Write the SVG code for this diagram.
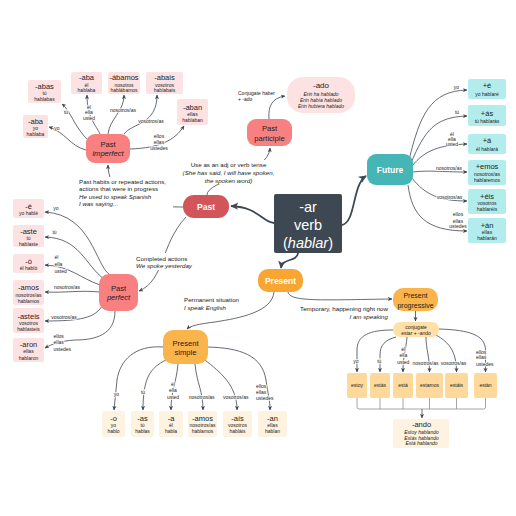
<svg xmlns="http://www.w3.org/2000/svg" width="516" height="516" viewBox="0 0 516 516">
<defs>
<marker id="ah" viewBox="0 0 10 10" refX="9" refY="5" markerWidth="4.5" markerHeight="4.5" markerUnits="userSpaceOnUse" orient="auto"><path d="M0,0.5 L10,5 L0,9.5 L2.5,5 z" fill="#3D4852"/></marker>
<marker id="ahb" viewBox="0 0 10 10" refX="9" refY="5" markerWidth="8" markerHeight="8" markerUnits="userSpaceOnUse" orient="auto"><path d="M0,0.5 L10,5 L0,9.5 L2.5,5 z" fill="#3D4852"/></marker>
</defs>
<style>
text{font-family:"Liberation Sans",Arial,sans-serif;fill:#222;text-anchor:middle}
.c{fill:none;stroke:#3D4852;stroke-width:0.8;marker-end:url(#ah)}
.cb{fill:none;stroke:#3D4852;stroke-width:1.8;marker-end:url(#ahb)}
.br{fill:none;stroke:#8A9096;stroke-width:0.8}
.l{font-size:5px;stroke:#fff;stroke-width:1.4px;paint-order:stroke;stroke-linejoin:round}
.ls{text-anchor:start}
.d{font-size:6.2px}
.ti{font-size:7.5px}
.s{font-size:5px}
.i{font-style:italic}
.pk{fill:#FDE2E4}
.tl{fill:#B3ECEC}
.cr{fill:#FEF3E0}
.or{fill:#FED99B}
.sal{fill:#F88080}
.ora{fill:#F9B44C}
.w{fill:#fff}
.nd{font-size:7.6px}
.bw{font-size:8.5px;font-weight:bold;fill:#fff}
</style>
<rect width="516" height="516" fill="#fff"/>

<g id="connectors">
<path class="cb" d="M274,223 C262,222 258,207 231,206"/>
<path class="cb" d="M342,225 C356,222 352,185 366,176"/>
<path class="cb" d="M298,253 C297,262 282,258 281,268"/>
<path class="c" d="M207,195 C207,180 268,175 270,148"/>
<path class="c" d="M269,119 C268,106 272,98 285,96"/>
<path class="c" d="M183,207 C160,207 108,205 108,165"/>
<path class="c" d="M186,217 C160,245 165,280 139,291"/>
<path class="c" d="M274,292 C272,312 240,318 215,322 C198,324 190,326 187,329"/>
<path class="c" d="M288,292 C290,302 320,300 392,299"/>
<path class="c" d="M86,150 C70,146 65,132 49,127"/>
<path class="c" d="M88,140 C75,128 70,110 62,104"/>
<path class="c" d="M100,134 C96,125 87,118 87,95"/>
<path class="c" d="M108,134 C110,118 124,112 124,95"/>
<path class="c" d="M124,134 C132,123 157,125 157,95"/>
<path class="c" d="M130,149 C160,148 175,140 184,126"/>
<path class="c" d="M409,160 C420,115 430,91 467,90"/>
<path class="c" d="M411,163 C425,130 435,117 467,116"/>
<path class="c" d="M412,166 C425,150 440,145 467,144"/>
<path class="c" d="M413,172 C430,170 440,172 467,172"/>
<path class="c" d="M412,178 C425,195 440,201 467,201"/>
<path class="c" d="M408,185 C412,215 425,231 467,231"/>
<path class="c" d="M110,275 C95,265 92,215 45,212"/>
<path class="c" d="M104,279 C85,265 80,238 45,237"/>
<path class="c" d="M100,285 C80,278 70,266 45,265"/>
<path class="c" d="M99,292 C80,290 65,293 45,292"/>
<path class="c" d="M102,306 C95,318 80,321 45,321"/>
<path class="c" d="M115,311 C115,335 95,340 75,340 C60,341 52,344 45,348"/>
<path class="c" d="M163,347 C135,345 120,360 117,380 L114,410"/>
<path class="c" d="M166,360 C150,368 143,378 143,410"/>
<path class="c" d="M178,364 C176,385 171,390 171,410"/>
<path class="c" d="M195,364 C197,385 203,390 203,410"/>
<path class="c" d="M205,360 C220,372 237,385 237,410"/>
<path class="c" d="M208,347 C240,348 262,355 266,380 C268,395 270,400 270,410"/>
<path class="c" d="M415.5,311 V321"/>
<path class="c" d="M393,330 C370,330 357,335 357,350 L357,372"/>
<path class="c" d="M396,337 C385,340 380,345 380,355 L380,372"/>
<path class="c" d="M407,337 C406,350 403,355 403,372"/>
<path class="c" d="M426,337 C426,350 429.5,355 429.5,372"/>
<path class="c" d="M436,335 C448,342 456.5,350 456.5,372"/>
<path class="c" d="M439,329 C470,330 485,335 485.5,350 L485.5,372"/>
<path class="br" d="M357,398 V407 Q357,409 359,409 H483.5 Q485.5,409 485.5,407 V398 M380,398 V409 M403,398 V409 M429.5,398 V409 M456.5,398 V409"/>
<path class="c" d="M422,409 V418"/>

<rect class="w" x="181" y="160" width="96" height="24"/>
<text class="d" x="228.5" y="166.5">Use as an adj or verb tense</text>
<text class="d i" x="228.5" y="174.5">(She has said, I will have spoken,</text>
<text class="d i" x="228.5" y="182.5">the spoken word)</text>
<rect class="w" x="77" y="177" width="96" height="31"/>
<text class="d ls" x="79" y="183.5">Past habits or repeated actions,</text>
<text class="d ls" x="79" y="191">actions that were in progress</text>
<text class="d ls i" x="79" y="198.5">He used to speak Spanish</text>
<text class="d ls i" x="79" y="206">I was saying...</text>
<rect class="w" x="134" y="253" width="60" height="17"/>
<text class="d ls" x="136" y="260.5">Completed actions</text>
<text class="d ls i" x="136" y="268">We spoke yesterday</text>
<text class="d ls" x="184" y="302">Permanent situation</text>
<text class="d ls i" x="184" y="309.5">I speak English</text>
<text class="d" x="388" y="311" style="text-anchor:end">Temporary, happening right now</text>
<text class="d i" x="388" y="318.5" style="text-anchor:end">I am speaking</text>
<text class="s ls" x="238" y="95">Conjugate haber</text>
<text class="s ls" x="238" y="101">+ -ado</text>

<text class="l" x="57" y="130">yo</text>
<text class="l" x="66" y="114">tú</text>
<text class="l" x="89" y="108.5">él</text>
<text class="l" x="89" y="114">ella</text>
<text class="l" x="89" y="120">usted</text>
<text class="l" x="123" y="112">nosotros/as</text>
<text class="l" x="151" y="122.5">vosotros/as</text>
<text class="l" x="159" y="138">ellos</text>
<text class="l" x="159" y="143.5">ellas</text>
<text class="l" x="159" y="150">ustedes</text>

<text class="l" x="456.5" y="89">yo</text>
<text class="l" x="457" y="114">tú</text>
<text class="l" x="452" y="135.5">él</text>
<text class="l" x="452" y="140.5">ella</text>
<text class="l" x="452" y="146">usted</text>
<text class="l" x="449" y="169.5">nosotros/as</text>
<text class="l" x="449.5" y="199">vosotros/as</text>
<text class="l" x="458" y="216">ellos</text>
<text class="l" x="458" y="222.5">ellas</text>
<text class="l" x="458" y="228">ustedes</text>

<text class="l" x="56" y="210">yo</text>
<text class="l" x="54.5" y="233.5">tú</text>
<text class="l ls" x="54.5" y="259">él</text>
<text class="l ls" x="54.5" y="266">ella</text>
<text class="l ls" x="54.5" y="272.5">usted</text>
<text class="l" x="67" y="289">nosotros/as</text>
<text class="l" x="64" y="318.5">vosotros/as</text>
<text class="l ls" x="53.5" y="338">ellos</text>
<text class="l ls" x="53.5" y="343.5">ellas</text>
<text class="l ls" x="53.5" y="351">ustedes</text>

<text class="l" x="116.5" y="395.5">yo</text>
<text class="l" x="143" y="393.5">tú</text>
<text class="l" x="173" y="386">él</text>
<text class="l" x="173" y="392.3">ella</text>
<text class="l" x="173" y="398.5">usted</text>
<text class="l" x="201.7" y="399">nosotros/as</text>
<text class="l" x="235.7" y="399">vosotros/as</text>
<text class="l ls" x="256" y="388">ellos</text>
<text class="l ls" x="256" y="393.7">ellas</text>
<text class="l ls" x="256" y="400">ustedes</text>

<text class="l" x="356" y="362.5">yo</text>
<text class="l" x="379.3" y="363">tú</text>
<text class="l" x="403.3" y="351">él</text>
<text class="l" x="403.3" y="357.3">ella</text>
<text class="l" x="403.3" y="363.5">usted</text>
<text class="l" x="425.5" y="365">nosotros/as</text>
<text class="l" x="453.5" y="365">vosotros/as</text>
<text class="l ls" x="476" y="353.5">ellos</text>
<text class="l ls" x="476" y="359">ellas</text>
<text class="l ls" x="476" y="365.5">ustedes</text>
</g>

<g id="verb">
<rect x="274" y="194" width="68" height="59" rx="2" fill="#3D4852"/>
<text x="308" y="212" style="font-size:14.5px;fill:#fff">-ar</text>
<text x="308" y="230" style="font-size:14.5px;fill:#fff">verb</text>
<text x="308" y="247.5" style="font-size:14.5px;fill:#fff">(<tspan font-style="italic">hablar</tspan>)</text>
</g>

<g id="past">
<rect x="183" y="195" width="46" height="23" rx="11" fill="#D2555A"/>
<text class="bw" x="206" y="209.5">Past</text>
</g>

<g id="past-participle">
<rect class="sal" x="247" y="119" width="45" height="27" rx="9"/>
<text class="nd" x="269.5" y="131">Past</text>
<text class="nd" x="269.5" y="140.5">participle</text>
</g>
<g id="ado">
<rect class="pk" x="287" y="77" width="68" height="36" rx="16"/>
<text style="font-size:8px" x="321" y="88">-ado</text>
<text class="s i" x="321" y="95.5">Erin ha hablado</text>
<text class="s i" x="321" y="101.5">Erin había hablado</text>
<text class="s i" x="321" y="107.5">Erin hubiera hablado</text>
</g>

<g id="past-imperfect">
<rect class="sal" x="86" y="134" width="44" height="29" rx="9"/>
<text class="nd" x="108" y="146.5">Past</text>
<text class="nd i" x="108" y="156">imperfect</text>
</g>
<g id="imp-abas"><rect class="pk" x="28" y="80" width="33" height="23" rx="2"/><text class="ti" x="44.5" y="88.5">-abas</text><text class="s" x="44.5" y="95">tú</text><text class="s" x="44.5" y="101">hablabas</text></g>
<g id="imp-aba-yo"><rect class="pk" x="23" y="115" width="25" height="23" rx="2"/><text class="ti" x="35.5" y="124">-aba</text><text class="s" x="35.5" y="130.3">yo</text><text class="s" x="35.5" y="136">hablaba</text></g>
<g id="imp-aba-el"><rect class="pk" x="71" y="72" width="31" height="22" rx="2"/><text class="ti" x="86.5" y="80">-aba</text><text class="s" x="86.5" y="86.5">él</text><text class="s" x="86.5" y="92">hablaba</text></g>
<g id="imp-abamos"><rect class="pk" x="108" y="72" width="32" height="22" rx="2"/><text class="ti" x="124" y="80">-ábamos</text><text class="s" x="124" y="86.5">nosotros</text><text class="s" x="124" y="92">hablábamos</text></g>
<g id="imp-abais"><rect class="pk" x="146" y="72" width="37" height="22" rx="2"/><text class="ti" x="164.5" y="80">-abais</text><text class="s" x="164.5" y="86.5">vosotros</text><text class="s" x="164.5" y="92">hablabais</text></g>
<g id="imp-aban"><rect class="pk" x="177" y="99" width="31" height="26" rx="2"/><text class="ti" x="192.5" y="109.5">-aban</text><text class="s" x="192.5" y="115.5">ellas</text><text class="s" x="192.5" y="122">hablaban</text></g>

<g id="past-perfect">
<rect class="sal" x="99" y="274" width="39" height="37" rx="10"/>
<text class="nd" x="118.5" y="290.5">Past</text>
<text class="nd i" x="118.5" y="300">perfect</text>
</g>
<g id="perf-e"><rect class="pk" x="13" y="199" width="31" height="19" rx="2"/><text class="ti" x="28.5" y="208.5">-é</text><text class="s" x="28.5" y="215">yo hablé</text></g>
<g id="perf-aste"><rect class="pk" x="13" y="225" width="31" height="22" rx="2"/><text class="ti" x="28.5" y="233.5">-aste</text><text class="s" x="28.5" y="240">tú</text><text class="s" x="28.5" y="245.8">hablaste</text></g>
<g id="perf-o"><rect class="pk" x="13" y="254" width="31" height="19" rx="2"/><text class="ti" x="28.5" y="263.5">-ó</text><text class="s" x="28.5" y="270">él habló</text></g>
<g id="perf-amos"><rect class="pk" x="13" y="280" width="31" height="25" rx="2"/><text class="ti" x="28.5" y="290">-amos</text><text class="s" x="28.5" y="297">nosotros/as</text><text class="s" x="28.5" y="302.5">hablamos</text></g>
<g id="perf-asteis"><rect class="pk" x="13" y="308" width="31" height="25" rx="2"/><text class="ti" x="28.5" y="318.5">-asteis</text><text class="s" x="28.5" y="325">vosotros</text><text class="s" x="28.5" y="331">hablasteis</text></g>
<g id="perf-aron"><rect class="pk" x="13" y="338" width="31" height="24" rx="2"/><text class="ti" x="28.5" y="347">-aron</text><text class="s" x="28.5" y="353">ellas</text><text class="s" x="28.5" y="360">hablaron</text></g>

<g id="future">
<rect x="367" y="154" width="46" height="31" rx="9" fill="#45B5B5"/>
<text class="bw" x="390" y="172.5">Future</text>
</g>
<g id="fut-e"><rect class="tl" x="468" y="79" width="38" height="20" rx="2"/><text class="ti" x="487" y="87.5">+é</text><text class="s" x="487" y="95.5">yo hablaré</text></g>
<g id="fut-as"><rect class="tl" x="468" y="105" width="38" height="21" rx="2"/><text class="ti" x="487" y="116">+ás</text><text class="s" x="487" y="123.3">tú hablarás</text></g>
<g id="fut-a"><rect class="tl" x="468" y="134" width="38" height="20" rx="2"/><text class="ti" x="487" y="143">+á</text><text class="s" x="487" y="151">él hablará</text></g>
<g id="fut-emos"><rect class="tl" x="468" y="160" width="38" height="25" rx="2"/><text class="ti" x="487" y="169.3">+emos</text><text class="s" x="487" y="176">nosotros/as</text><text class="s" x="487" y="181.8">hablaremos</text></g>
<g id="fut-eis"><rect class="tl" x="468" y="189" width="38" height="25" rx="2"/><text class="ti" x="487" y="198.6">+éis</text><text class="s" x="487" y="205">vosotros</text><text class="s" x="487" y="211">hablaréis</text></g>
<g id="fut-an"><rect class="tl" x="468" y="218" width="38" height="25" rx="2"/><text class="ti" x="487" y="227.6">+án</text><text class="s" x="487" y="234">ellas</text><text class="s" x="487" y="240">hablarán</text></g>

<g id="present">
<rect x="258" y="269" width="45" height="23" rx="10" fill="#F9A531"/>
<text class="bw" x="280.5" y="283.5">Present</text>
</g>

<g id="present-simple">
<rect class="ora" x="163" y="330" width="45" height="34" rx="10"/>
<text class="nd" x="185.5" y="346">Present</text>
<text class="nd" x="185.5" y="354.5">simple</text>
</g>
<g id="ps-o"><rect class="cr" x="102" y="411" width="23" height="26" rx="2"/><text class="ti" x="113.5" y="420.5">-o</text><text class="s" x="113.5" y="427">yo</text><text class="s" x="113.5" y="433">hablo</text></g>
<g id="ps-as"><rect class="cr" x="131" y="411" width="23" height="26" rx="2"/><text class="ti" x="142.5" y="420.5">-as</text><text class="s" x="142.5" y="427">tú</text><text class="s" x="142.5" y="433">hablas</text></g>
<g id="ps-a"><rect class="cr" x="159" y="411" width="24" height="26" rx="2"/><text class="ti" x="171" y="420.5">-a</text><text class="s" x="171" y="427">él</text><text class="s" x="171" y="433">habla</text></g>
<g id="ps-amos"><rect class="cr" x="188" y="411" width="29" height="26" rx="2"/><text class="ti" x="202.5" y="420.5">-amos</text><text class="s" x="202.5" y="427">nosotros/as</text><text class="s" x="202.5" y="433">hablamos</text></g>
<g id="ps-ais"><rect class="cr" x="223" y="411" width="29" height="26" rx="2"/><text class="ti" x="237.5" y="420.5">-aís</text><text class="s" x="237.5" y="427">vosotros</text><text class="s" x="237.5" y="433">habláis</text></g>
<g id="ps-an"><rect class="cr" x="258" y="411" width="29" height="26" rx="2"/><text class="ti" x="272.5" y="420.5">-an</text><text class="s" x="272.5" y="427">ellas</text><text class="s" x="272.5" y="433">hablan</text></g>

<g id="present-progressive">
<rect class="ora" x="393" y="288" width="45" height="23" rx="10"/>
<text style="font-size:7px" x="415.5" y="298">Present</text>
<text style="font-size:7px" x="415.5" y="307.5">progressive</text>
</g>
<g id="conjugate">
<rect x="393" y="322" width="46" height="15" rx="7" fill="#FFE0A6"/>
<text class="s" x="416" y="328.5">conjugate</text>
<text class="s" x="416" y="334.5">estar + -ando</text>
</g>
<g id="pp-estoy"><rect class="or" x="347" y="373" width="20" height="25" rx="2"/><text class="s" x="357" y="387">estoy</text></g>
<g id="pp-estas"><rect class="or" x="370" y="373" width="20" height="25" rx="2"/><text class="s" x="380" y="387">estás</text></g>
<g id="pp-esta"><rect class="or" x="393" y="373" width="20" height="25" rx="2"/><text class="s" x="403" y="387">está</text></g>
<g id="pp-estamos"><rect class="or" x="416" y="373" width="27" height="25" rx="2"/><text class="s" x="429.5" y="387">estamos</text></g>
<g id="pp-estais"><rect class="or" x="445" y="373" width="23" height="25" rx="2"/><text class="s" x="456.5" y="387">estáis</text></g>
<g id="pp-estan"><rect class="or" x="474" y="373" width="23" height="25" rx="2"/><text class="s" x="485.5" y="387">están</text></g>
<g id="ando">
<rect class="cr" x="393" y="419" width="56" height="29" rx="2"/>
<text class="ti" x="421.5" y="427">-ando</text>
<text class="s i" x="421.5" y="434.3">Estoy hablando</text>
<text class="s i" x="421.5" y="439.8">Estás hablando</text>
<text class="s i" x="421.5" y="445.3">Está hablando</text>
</g>
</svg>
